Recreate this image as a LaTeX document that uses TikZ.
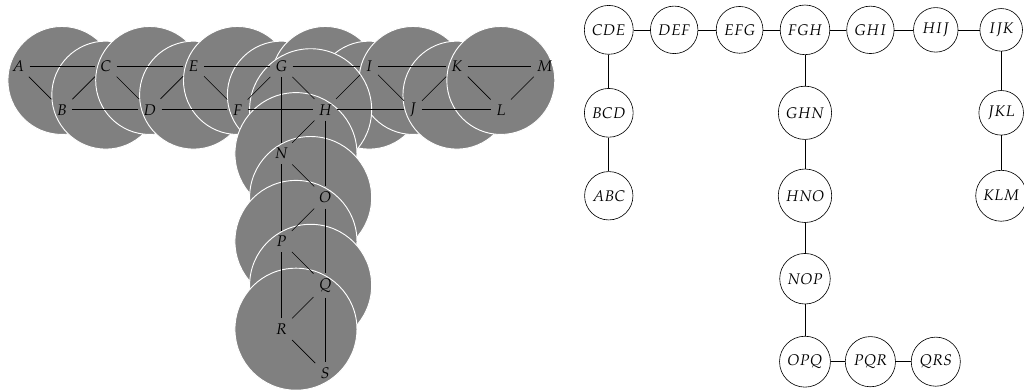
\documentclass[tikz,border=0pt]{standalone}
\usepackage{amsmath}
\usepackage{mathpazo}

\tikzset{
  blob/.style={fill=gray, draw=white, line width=0.6pt},
  bag/.style={draw, circle},
}

\begin{document}
\begin{tikzpicture}
		\useasboundingbox (-0.41,-7.38) rectangle (22.92,1.50);

		% Discs along the top row
		\foreach \x/\y in {1/-0.333,2/-0.667,3/-0.333,4/-0.667,5/-0.333,6/-0.667,7/-0.333,8/-0.667,9/-0.333,10/-0.667,11/-0.333} {
				\path[blob] (\x,\y) circle (1.23);
			}

		% Discs down the column
		\foreach \x/\y in {6.667/-1,6.333/-2,6.667/-3,6.333/-4,6.667/-5,6.333/-6} {
				\path[blob] (\x,\y) circle (1.39);
			}

		% Vertices
		\foreach \n/\x in {A/0,C/2,E/4,G/6,I/8,K/10,M/12} {
				\node (\n) at (\x,0) {$\n$};
			}
		\foreach \n/\x in {B/1,D/3,F/5,H/7,J/9,L/11} {
				\node (\n) at (\x,-1) {$\n$};
			}
		\foreach \n/\x/\y in {N/6/-2,O/7/-3,P/6/-4,Q/7/-5,R/6/-6,S/7/-7} {
				\node (\n) at (\x,\y) {$\n$};
			}

		% Edges of the graph
		\foreach \a/\b in {A/B,A/C,B/C,B/D,C/D,C/E,D/E,D/F,E/F,E/G,F/G,F/H,G/H,G/I,H/I,H/J,I/J,I/K,J/K,J/L,K/L,K/M,L/M,
				G/N,H/N,H/O,N/O,N/P,O/P,O/Q,P/Q,P/R,Q/R,Q/S,R/S} {
				\draw (\a) -- (\b);
			}

		% Tree of triangles
		\begin{scope}[shift={(13.46,0.82)}, xscale=1.49, yscale=1.89]
			\foreach \n/\x/\y in {CDE/0/0,DEF/1/0,EFG/2/0,FGH/3/0,GHI/4/0,HIJ/5/0,IJK/6/0,
					BCD/0/-1,ABC/0/-2,GHN/3/-1,HNO/3/-2,NOP/3/-3,OPQ/3/-4,PQR/4/-4,QRS/5/-4,JKL/6/-1,KLM/6/-2} {
					\node[bag] (\n) at (\x,\y) {$\n$};
				}
		\end{scope}

		% Tree edges
		\foreach \a/\b in {CDE/DEF,DEF/EFG,EFG/FGH,FGH/GHI,GHI/HIJ,HIJ/IJK,CDE/BCD,BCD/ABC,
				FGH/GHN,GHN/HNO,HNO/NOP,NOP/OPQ,OPQ/PQR,PQR/QRS,IJK/JKL,JKL/KLM} {
				\draw (\a) -- (\b);
			}
	\end{tikzpicture}
\end{document}
